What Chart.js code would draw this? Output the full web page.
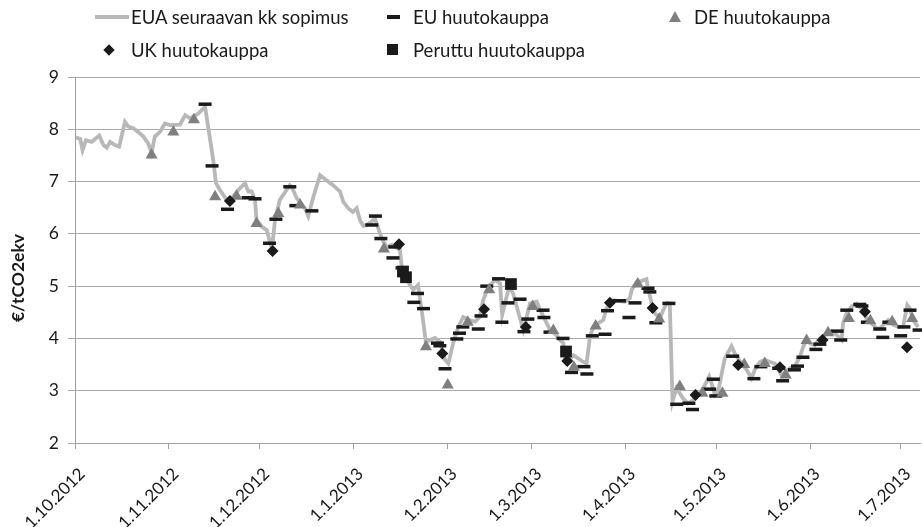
<!DOCTYPE html>
<html><head><meta charset="utf-8">
<script src="https://cdn.jsdelivr.net/npm/chart.js@4.4.1/dist/chart.umd.min.js"></script>
<style>
html,body{margin:0;padding:0;background:#fff;}
#wrap{position:relative;width:922px;height:527px;overflow:hidden;font-family:Lato,'Liberation Sans',sans-serif;}
canvas{position:absolute;left:0;top:0;}
.lg{position:absolute;font-size:18.5px;color:#1a1a1a;line-height:20px;white-space:nowrap;}
.sym{position:absolute;}
#ytitle{position:absolute;left:-42.5px;top:267.5px;width:120px;height:20px;line-height:20px;text-align:center;font-size:17.5px;font-weight:bold;color:#1a1a1a;transform:rotate(-90deg);transform-origin:60px 10px;white-space:nowrap;}
</style></head><body>
<div id="wrap">
<canvas id="c" width="922" height="527"></canvas>
<div class="sym" style="left:95px;top:15px;width:34px;height:4px;background:#b8b8b8"></div>
<div class="lg" style="left:131px;top:7px">EUA seuraavan kk sopimus</div>
<div class="sym" style="left:387px;top:15px;width:13px;height:3.5px;background:#1a1a1a"></div>
<div class="lg" style="left:413px;top:7px">EU huutokauppa</div>
<div class="sym" style="left:669px;top:11px;width:0;height:0;border-left:6px solid transparent;border-right:6px solid transparent;border-bottom:11px solid #7f7f7f"></div>
<div class="lg" style="left:694px;top:7px">DE huutokauppa</div>
<div class="sym" style="left:105px;top:46px;width:8px;height:8px;background:#1a1a1a;transform:rotate(45deg)"></div>
<div class="lg" style="left:131px;top:40px">UK huutokauppa</div>
<div class="sym" style="left:387px;top:44px;width:11px;height:11px;background:#1a1a1a"></div>
<div class="lg" style="left:413px;top:40px">Peruttu huutokauppa</div>
<div id="ytitle">€/tCO2ekv</div>
</div>
<script>
const monthTicks = [0,31,61,92,123,151,182,212,243,273];
const monthLabels = ['1.10.2012','1.11.2012','1.12.2012','1.1.2013','1.2.2013','1.3.2013','1.4.2013','1.5.2013','1.6.2013','1.7.2013'];

const euaDays = [0.3,1.7,2.5,3.6,5.5,8.0,9.4,10.5,11.6,13.2,14.6,16.5,17.6,19.3,20.9,22.6,24.2,25.3,26.4,28.1,29.7,31.4,34.7,36.4,38.0,40.7,43.0,45.7,46.6,47.9,50.1,51.8,54.0,56.2,57.3,58.4,59.5,60.0,61.7,63.4,64.4,65.1,66.1,67.7,71.0,71.6,73.3,76.0,77.1,78.8,81.0,83.2,85.3,85.9,87.6,88.7,90.3,91.8,93.1,94.2,95.3,96.4,98.0,99.1,99.7,101.4,103.0,104.7,107.4,108.0,110.1,111.8,113.4,114.0,114.6,116.0,117.3,119.0,120.6,122.3,123.4,125.0,126.7,128.3,130.5,132.2,133.8,134.9,136.0,137.7,138.8,140.5,141.2,142.1,143.5,144.8,146.0,147.1,148.2,149.3,150.4,152.6,153.8,155.9,157.0,159.2,160.3,161.4,161.9,162.9,164.7,166.3,168.0,169.1,170.2,171.3,172.9,174.6,175.7,177.9,179.6,181.8,183.4,184.0,185.6,187.3,188.9,189.4,190.6,191.7,193.3,194.4,195.7,196.6,197.5,198.8,201.0,202.6,204.3,206.5,208.2,209.6,210.4,211.5,212.6,214.2,214.8,217.0,218.1,220.3,222.0,223.6,224.7,226.4,228.0,229.7,231.3,232.5,233.5,236.3,237.9,239.6,240.7,241.8,242.9,244.5,246.2,247.9,250.1,251.7,253.4,253.9,255.0,256.7,258.3,260.5,261.6,263.8,265.0,266.1,267.7,268.8,270.5,272.1,273.7,275.1,275.9,277.0,278.7];
const euaPrices = [7.84,7.82,7.60,7.79,7.76,7.88,7.70,7.65,7.76,7.70,7.67,8.14,8.05,8.02,7.95,7.86,7.73,7.55,7.86,7.95,8.11,8.08,8.09,8.27,8.21,8.30,8.43,7.41,6.97,6.84,6.65,6.68,6.84,6.97,6.81,6.81,6.65,6.26,6.14,6.07,5.85,5.72,6.26,6.65,6.93,6.90,6.68,6.49,6.34,6.71,7.12,7.02,6.93,6.90,6.81,6.61,6.49,6.42,6.49,6.26,6.15,6.17,6.23,6.30,6.20,5.91,5.75,5.79,5.69,5.37,5.08,4.93,5.02,4.77,4.54,3.92,3.97,4.01,3.94,3.59,3.52,3.91,4.22,4.41,4.35,4.32,4.41,4.73,4.89,5.05,5.12,5.05,4.45,4.67,4.99,4.86,4.61,4.38,4.16,4.41,4.67,4.70,4.54,4.29,4.16,4.06,3.97,3.91,3.59,3.55,3.68,3.62,3.55,3.52,4.03,4.22,4.29,4.35,4.58,4.73,4.72,4.70,4.77,4.93,5.08,5.10,5.13,4.96,4.67,4.48,4.38,4.54,4.68,4.67,2.80,3.05,2.85,2.76,2.82,2.95,3.11,3.27,3.14,2.92,2.98,3.46,3.62,3.85,3.71,3.52,3.40,3.24,3.40,3.55,3.59,3.55,3.52,3.40,3.30,3.43,3.46,3.65,3.84,3.97,3.91,3.87,4.00,4.07,4.13,4.07,3.97,4.29,4.48,4.61,4.66,4.54,4.38,4.26,4.19,4.19,4.29,4.35,4.26,4.22,4.22,4.64,4.58,4.35,4.22];

const euDays = [43.0,45.3,50.4,57.2,59.5,64.3,66.4,71.0,73.0,78.3,98.1,99.3,101.1,105.1,105.7,108.1,112.0,113.2,115.2,119.8,120.6,122.3,126.2,127.1,128.2,133.3,134.2,136.1,140.0,141.1,143.1,147.1,148.4,149.7,154.7,155.0,157.0,161.3,164.1,168.2,169.2,171.0,175.2,176.0,180.0,183.1,185.1,189.4,190.0,192.0,196.3,198.9,202.9,204.1,209.8,211.0,211.8,217.4,224.4,226.7,232.6,233.9,237.8,238.8,240.6,244.9,246.2,251.9,253.1,255.1,259.4,260.1,261.9,266.0,267.0,269.0,272.9,274.0,276.0,279.0];
const euPrices = [8.48,7.30,6.47,6.69,6.67,5.82,6.28,6.90,6.54,6.44,6.17,6.34,5.91,5.54,5.75,5.35,4.69,4.86,4.57,3.91,3.86,3.42,3.99,4.10,4.22,4.18,4.43,5.00,5.14,4.31,4.68,4.75,4.13,4.37,4.54,4.40,4.12,4.00,3.35,3.46,3.32,4.05,4.08,4.53,4.72,4.40,4.68,4.96,4.89,4.30,4.67,2.74,2.76,2.64,3.03,3.22,2.90,3.66,3.23,3.46,3.43,3.19,3.40,3.47,3.64,3.79,3.89,4.14,3.97,4.54,4.65,4.62,4.31,4.18,4.02,4.31,4.05,4.22,4.54,4.16];

const deDays = [25.3,32.5,39.3,46.3,53.4,60.0,67.2,74.4,102.1,116.0,123.2,129.8,136.9,151.3,158.1,164.9,172.1,186.0,193.1,199.9,207.4,214.0,221.2,228.0,234.9,241.8,248.9,255.8,262.9,270.1,276.7];
const dePrices = [7.51,7.95,8.18,6.71,6.72,6.20,6.39,6.55,5.71,3.84,3.11,4.31,4.93,4.61,4.15,3.45,4.24,5.04,4.37,3.08,2.95,2.95,3.50,3.52,3.30,3.96,4.11,4.38,4.34,4.32,4.38];

const ukDays = [51.2,65.3,107.1,121.4,135.2,149.0,162.7,176.8,190.9,205.1,219.2,233.0,247.1,261.1,275.0];
const ukPrices = [6.63,5.67,5.80,3.71,4.56,4.22,3.57,4.68,4.58,2.92,3.49,3.45,3.97,4.51,3.83];

const cancelDays = [108.4,109.4,144.1,162.3];
const cancelPrices = [5.28,5.17,5.04,3.75];

const pts = (xs, ys) => xs.map((x, i) => ({x: x, y: ys[i]}));
const FONT = 'Lato, "Liberation Sans", sans-serif';
const DARK = '#1a1a1a';
const noPad = s => { s.paddingLeft = 0; s.paddingRight = 0; s.paddingTop = 0; s.paddingBottom = 0; };

new Chart(document.getElementById('c'), {
  type: 'scatter',
  data: {
    datasets: [
      {label: 'EUA seuraavan kk sopimus', data: pts(euaDays, euaPrices), showLine: true, borderColor: '#b8b8b8', borderWidth: 3.8, pointRadius: 0, tension: 0, fill: false, order: 10},
      {label: 'EU huutokauppa', data: pts(euDays, euPrices), pointStyle: 'line', pointRadius: 6.5, pointBorderWidth: 3.5, pointBorderColor: DARK, pointBackgroundColor: DARK, showLine: false, order: 4, clip: false},
      {label: 'DE huutokauppa', data: pts(deDays, dePrices), pointStyle: 'triangle', pointRadius: 7, pointBorderWidth: 0, pointBackgroundColor: '#7f7f7f', pointBorderColor: '#7f7f7f', showLine: false, order: 3, clip: false},
      {label: 'UK huutokauppa', data: pts(ukDays, ukPrices), pointStyle: 'rectRot', pointRadius: 6, pointBorderWidth: 0, pointBackgroundColor: DARK, pointBorderColor: DARK, showLine: false, order: 2, clip: false},
      {label: 'Peruttu huutokauppa', data: pts(cancelDays, cancelPrices), pointStyle: 'rect', pointRadius: 8.3, pointBorderWidth: 0, pointBackgroundColor: DARK, pointBorderColor: DARK, showLine: false, order: 1, clip: false}
    ]
  },
  options: {
    responsive: false,
    animation: false,
    events: [],
    layout: {autoPadding: false, padding: {top: 77, right: 2, left: 0, bottom: 0}},
    plugins: {legend: {display: false}, tooltip: {enabled: false}},
    scales: {
      x: {
        type: 'linear', min: 0, max: 279.3,
        afterFit: s => { s.height = 84; noPad(s); },
        afterBuildTicks: s => { s.ticks = monthTicks.map(v => ({value: v})); },
        ticks: {
          autoSkip: false, minRotation: 45, maxRotation: 45, padding: 15, labelOffset: 7,
          color: DARK, font: {family: FONT, size: 17},
          callback: (v) => { const i = monthTicks.indexOf(v); return i >= 0 ? monthLabels[i] : ''; }
        },
        grid: {drawOnChartArea: false, drawTicks: true, tickLength: 6, color: '#a0a0a0', lineWidth: 1},
        border: {color: '#a0a0a0', width: 1}
      },
      y: {
        min: 2, max: 9,
        afterFit: s => { s.width = 75; noPad(s); },
        ticks: {stepSize: 1, padding: 9, color: DARK, font: {family: FONT, size: 17.5}},
        grid: {color: '#aaaaaa', lineWidth: 1, tickLength: 7, drawTicks: true},
        border: {color: '#a0a0a0', width: 1}
      }
    }
  }
});
</script>
</body></html>
